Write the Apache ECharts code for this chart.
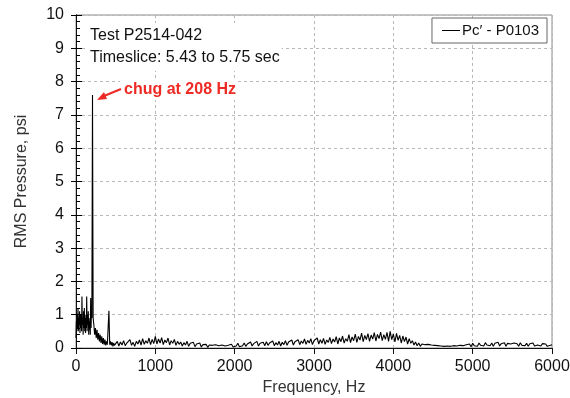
<!DOCTYPE html>
<html>
<head>
<meta charset="utf-8">
<script src="https://cdn.jsdelivr.net/npm/echarts@6/dist/echarts.min.js"></script>
<style>html,body{margin:0;padding:0;background:#fff}#c{width:570px;height:398px}</style>
</head>
<body>
<div id="c"></div>
<script>
// Low-frequency part (Hz, psi)
var lowFreq = [0,5,10,15,20,25,30,35,40,45,50,55,60,65,70,75,80,85,90,95,100,105,110,115,120,125,130,135,140,145,150,155,160,165,170,175,180,185,190,195,200,208,216,225,235,245,255,265,275,285,295,305,315,325,335,345,355,365,375,385,395,405,415,425,435,445,455,465,475,485];
var lowPsi  = [0.3,0.8,0.5,1.0,0.6,1.2,0.5,0.9,0.7,1.1,0.45,1.0,0.6,1.0,0.5,1.55,0.7,0.9,0.4,1.1,0.6,1.2,0.5,0.9,0.45,1.0,0.6,1.55,0.5,1.0,0.7,1.1,0.4,0.8,0.55,0.9,0.4,1.5,0.6,1.2,0.9,7.6,0.9,0.7,0.4,0.6,0.3,0.55,0.25,0.45,0.2,0.4,0.15,0.35,0.12,0.3,0.1,0.25,0.08,0.2,0.1,0.15,1.12,0.1,0.2,0.08,0.18,0.05,0.15,0.08];
// 500 - 6000 Hz, every 20 Hz
var highStartHz = 500, highStepHz = 20;
var highPsi = [
0.12,0.2,0.06,0.18,0.09,0.22,0.07,0.15,0.1,0.25,
0.08,0.17,0.05,0.2,0.12,0.24,0.09,0.28,0.11,0.22,
0.14,0.3,0.1,0.26,0.13,0.35,0.12,0.27,0.15,0.31,
0.1,0.24,0.16,0.3,0.09,0.22,0.14,0.26,0.08,0.2,
0.11,0.18,0.06,0.16,0.09,0.2,0.05,0.14,0.08,0.17,
0.04,0.12,0.07,0.15,0.03,0.1,0.06,0.11,0.02,0.09,
0.05,0.08,0.02,0.1,0.04,0.07,0.03,0.09,0.05,0.06,
0.02,0.08,0.04,0.11,0.03,0.09,0.06,0.14,0.04,0.1,
0.07,0.15,0.05,0.12,0.08,0.18,0.06,0.13,0.09,0.2,
0.06,0.14,0.1,0.17,0.07,0.19,0.08,0.15,0.11,0.21,
0.07,0.16,0.09,0.2,0.06,0.17,0.1,0.22,0.08,0.18,
0.12,0.24,0.09,0.19,0.13,0.25,0.1,0.21,0.14,0.27,
0.11,0.23,0.15,0.28,0.1,0.22,0.16,0.3,0.12,0.25,
0.14,0.29,0.11,0.24,0.17,0.32,0.13,0.27,0.18,0.34,
0.12,0.3,0.19,0.36,0.15,0.28,0.2,0.4,0.16,0.33,
0.22,0.42,0.17,0.35,0.24,0.45,0.19,0.38,0.25,0.43,
0.2,0.39,0.27,0.46,0.21,0.41,0.28,0.48,0.22,0.4,
0.26,0.47,0.2,0.5,0.25,0.42,0.18,0.44,0.23,0.38,
0.15,0.36,0.19,0.33,0.12,0.28,0.14,0.22,0.09,0.18,
0.07,0.15,0.05,0.12,0.06,0.1,0.04,0.11,0.05,0.09,
0.03,0.08,0.04,0.07,0.02,0.06,0.03,0.05,0.02,0.06,
0.03,0.05,0.02,0.07,0.03,0.06,0.04,0.08,0.03,0.07,
0.05,0.1,0.06,0.12,0.04,0.14,0.07,0.12,0.05,0.15,
0.08,0.13,0.06,0.16,0.09,0.12,0.07,0.15,0.05,0.14,
0.08,0.17,0.06,0.13,0.09,0.16,0.05,0.14,0.08,0.12,
0.06,0.15,0.09,0.13,0.05,0.16,0.08,0.12,0.07,0.14,
0.05,0.13,0.08,0.15,0.06,0.12,0.09,0.14,0.06,0.13,
0.07,0.12,0.05,0.11,0.08,0.1
];
var seriesName = 'Pc\u2032 - P0103';
var notes = ['Test P2514-042', 'Timeslice: 5.43 to 5.75 sec'];
var peakNote = 'chug at 208 Hz';

var data = [];
for (var i = 0; i < lowFreq.length; i++) data.push([lowFreq[i], lowPsi[i]]);
for (var j = 0; j < highPsi.length; j++) data.push([highStartHz + highStepHz * j, highPsi[j]]);

var F = 'Liberation Sans, Arial, sans-serif';
var chart = echarts.init(document.getElementById('c'), null, {renderer: 'canvas'});
chart.setOption({
  animation: false,
  grid: {left: 76, right: 18, top: 15, bottom: 50, show: true, borderColor: '#8c8c8c', borderWidth: 1, backgroundColor: 'transparent', containLabel: false, outerBoundsMode: 'none'},
  legend: {
    data: [seriesName], right: 23, top: 18, orient: 'horizontal',
    icon: 'rect', itemWidth: 18, itemHeight: 1, itemGap: 2,
    borderColor: '#666', borderWidth: 1, backgroundColor: '#fff',
    padding: [5, 8, 5, 10],
    textStyle: {fontFamily: F, fontSize: 15, color: '#111', padding: [0,0,0,-3]}
  },
  xAxis: [{
    type: 'value', min: 0, max: 6000, interval: 1000,
    name: 'Frequency, Hz', nameLocation: 'middle', nameGap: 32,
    nameTextStyle: {fontFamily: F, fontSize: 16, color: '#333'},
    axisLine: {show: true, lineStyle: {color: '#111', width: 1}},
    axisTick: {show: true, length: 6, lineStyle: {color: '#111'}},
    axisLabel: {fontFamily: F, fontSize: 16, color: '#111', margin: 11, formatter: function (v) { return String(v); }},
    splitLine: {show: true, lineStyle: {color: '#b8b8b8', type: [3, 3], width: 1}}
  }],
  yAxis: [{
    type: 'value', min: 0, max: 10, interval: 1,
    name: 'RMS Pressure, psi', nameLocation: 'middle', nameGap: 46,
    nameTextStyle: {fontFamily: F, fontSize: 16, color: '#333'},
    axisLine: {show: true, lineStyle: {color: '#111', width: 1}},
    axisTick: {show: true, inside: true, length: 6, lineStyle: {color: '#000'}},
    minorTick: {show: true, splitNumber: 5, length: 4, lineStyle: {color: '#000'}},
    axisLabel: {fontFamily: F, fontSize: 16, color: '#111', margin: 12},
    splitLine: {show: true, lineStyle: {color: '#b8b8b8', type: [3, 3], width: 1}}
  }, {
    type: 'value', min: 0, max: 10, interval: 1, position: 'left', offset: 0,
    axisLine: {show: true, lineStyle: {color: '#111', width: 1}},
    axisTick: {show: true, inside: false, length: 5, lineStyle: {color: '#000'}},
    axisLabel: {show: false},
    splitLine: {show: false}
  }],
  series: [{
    name: seriesName, type: 'line', data: data, showSymbol: false, symbol: 'none',
    lineStyle: {color: '#000', width: 1.1}, itemStyle: {color: '#000'}, z: 3
  }],
  graphic: [
    {type: 'text', left: 88, top: 23, z: 10, style: {text: notes[0] + '\n' + notes[1], fontFamily: F, fontSize: 16, lineHeight: 22, fill: '#111', backgroundColor: '#fff', padding: [2, 2, 2, 2]}},
    {type: 'text', left: 120, top: 80, z: 10, style: {text: peakNote, fontFamily: F, fontSize: 16, fontWeight: 'bold', fill: '#ee2a24', backgroundColor: '#fff', padding: [2, 2, 2, 4]}},
    {type: 'line', z: 11, shape: {x1: 121, y1: 89, x2: 104, y2: 96}, style: {stroke: '#ee2a24', lineWidth: 2}},
    {type: 'polygon', z: 11, shape: {points: [[97, 100], [104, 92], [107, 99]]}, style: {fill: '#ee2a24'}}
  ]
});
</script>
</body>
</html>
